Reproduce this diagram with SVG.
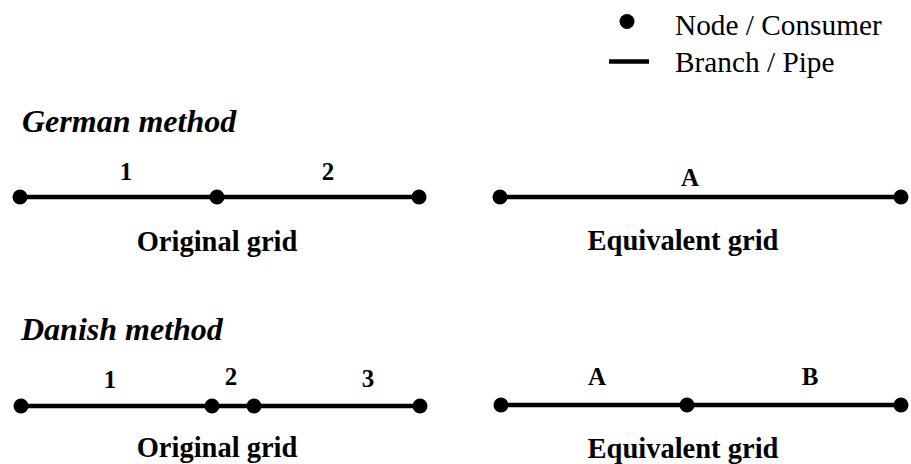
<svg xmlns="http://www.w3.org/2000/svg" width="911" height="464" viewBox="0 0 911 464">
<style>
.leg{font-family:'Liberation Serif',serif;font-size:29.3px;fill:#000}
.title{font-family:'Liberation Serif',serif;font-size:32px;font-weight:bold;font-style:italic;fill:#000}
.lab{font-family:'Liberation Serif',serif;font-size:25px;font-weight:bold;text-anchor:middle;fill:#000}
.cap{font-family:'Liberation Serif',serif;font-size:28.5px;font-weight:bold;text-anchor:middle;fill:#000}
.pipe{stroke:#000;stroke-width:4.5;fill:none}
.node{fill:#000}
</style>
<rect width="911" height="464" fill="#fff"/>
<g id="legend">
<circle class="node" cx="627" cy="21.5" r="7.5"/>
<text class="leg" x="675" y="35">Node / Consumer</text>
<line class="pipe" x1="609" y1="61.5" x2="649" y2="61.5"/>
<text class="leg" x="675" y="72">Branch / Pipe</text>
</g>
<text class="title" x="22" y="132">German method</text>
<text class="title" x="21" y="340">Danish method</text>
<g id="connectors">
<line class="pipe" x1="20" y1="197" x2="217" y2="197"/>
<line class="pipe" x1="217" y1="197" x2="419" y2="197"/>
<line class="pipe" x1="500" y1="197" x2="901" y2="197"/>
<line class="pipe" x1="21" y1="406" x2="212" y2="406"/>
<line class="pipe" x1="212" y1="406" x2="254" y2="406"/>
<line class="pipe" x1="254" y1="406" x2="420" y2="406"/>
<line class="pipe" x1="501" y1="405" x2="687" y2="405"/>
<line class="pipe" x1="687" y1="405" x2="901" y2="405"/>
</g>
<g id="labels">
<text class="lab" x="126" y="180">1</text>
<text class="lab" x="328" y="180">2</text>
<text class="lab" x="690" y="186">A</text>
<text class="lab" x="110" y="388">1</text>
<text class="lab" x="231" y="385">2</text>
<text class="lab" x="368" y="387">3</text>
<text class="lab" x="597" y="385">A</text>
<text class="lab" x="810" y="385">B</text>
<text class="cap" x="217" y="251">Original grid</text>
<text class="cap" x="683" y="250">Equivalent grid</text>
<text class="cap" x="217" y="457">Original grid</text>
<text class="cap" x="683" y="458">Equivalent grid</text>
</g>
<g id="g-n1"><circle class="node" cx="20" cy="197" r="7.5"/></g>
<g id="g-n2"><circle class="node" cx="217" cy="197" r="7.5"/></g>
<g id="g-n3"><circle class="node" cx="419" cy="197" r="7.5"/></g>
<g id="ge-n1"><circle class="node" cx="500" cy="197" r="7.5"/></g>
<g id="ge-n2"><circle class="node" cx="901" cy="197" r="7.5"/></g>
<g id="d-n1"><circle class="node" cx="21" cy="406" r="7.5"/></g>
<g id="d-n2"><circle class="node" cx="212" cy="406" r="7.5"/></g>
<g id="d-n3"><circle class="node" cx="254" cy="406" r="7.5"/></g>
<g id="d-n4"><circle class="node" cx="420" cy="406" r="7.5"/></g>
<g id="de-n1"><circle class="node" cx="501" cy="405" r="7.5"/></g>
<g id="de-n2"><circle class="node" cx="687" cy="405" r="7.5"/></g>
<g id="de-n3"><circle class="node" cx="901" cy="405" r="7.5"/></g>
</svg>
